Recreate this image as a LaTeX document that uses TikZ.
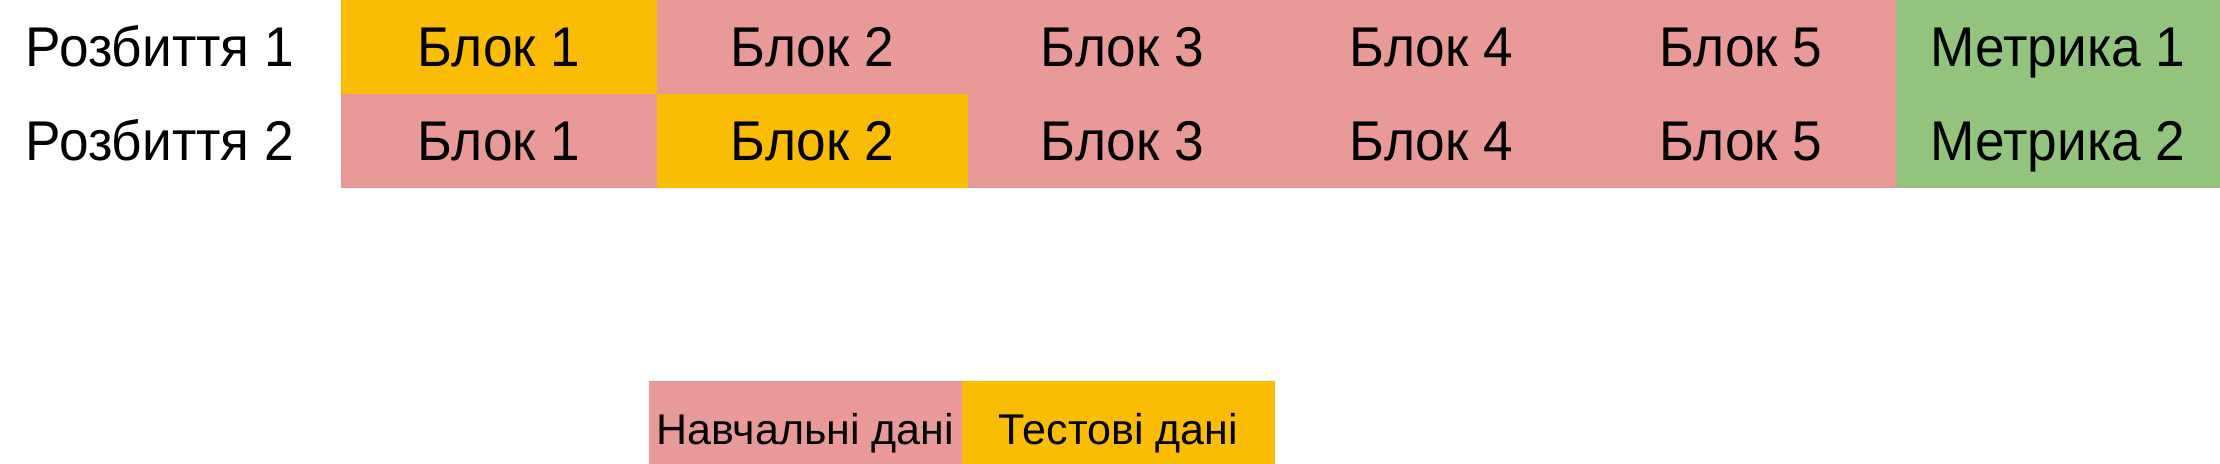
\documentclass[tikz,border=0pt]{standalone}
\usepackage{fontspec}
\setmainfont{Liberation Sans}
\newfontfamily\narrowfont[FakeStretch=0.95]{Liberation Sans}
\definecolor{trainc}{HTML}{EA9999}
\definecolor{testc}{HTML}{FBBC04}
\definecolor{metricc}{HTML}{93C47D}
\begin{document}
\begin{tikzpicture}[x=0.5pt,y=-0.5pt,
  lab/.style={inner sep=0pt,anchor=base,font=\narrowfont\fontsize{28}{32}\selectfont},
  legcell/.style={inner sep=0pt,anchor=base,font=\fontsize{21.5}{25}\selectfont}]
\useasboundingbox (0,0) rectangle (2220,464);
% row 1
\fill[testc] (341,0) rectangle (657,94);
\fill[trainc] (657,0) rectangle (1896,94);
\fill[metricc] (1896,0) rectangle (2220,94);
% row 2
\fill[trainc] (341,94) rectangle (657,188);
\fill[testc] (657,94) rectangle (968,188);
\fill[trainc] (968,94) rectangle (1896,188);
\fill[metricc] (1896,94) rectangle (2220,188);
% row labels
\node[lab] (r1) at (160,67) {Розбиття 1};
\node[lab] (r2) at (160,161) {Розбиття 2};
% texts
\node[lab] (a1) at (499,67) {Блок 1};
\node[lab] (a2) at (812.5,67) {Блок 2};
\node[lab] (a3) at (1122.5,67) {Блок 3};
\node[lab] (a4) at (1431.5,67) {Блок 4};
\node[lab] (a5) at (1741,67) {Блок 5};
\node[lab] (am) at (2058,67) {Метрика 1};
\node[lab] (b1) at (499,161) {Блок 1};
\node[lab] (b2) at (812.5,161) {Блок 2};
\node[lab] (b3) at (1122.5,161) {Блок 3};
\node[lab] (b4) at (1431.5,161) {Блок 4};
\node[lab] (b5) at (1741,161) {Блок 5};
\node[lab] (bm) at (2058,161) {Метрика 2};
% legend
\fill[trainc] (649,381) rectangle (962,464);
\fill[testc] (962,381) rectangle (1275,464);
\node[legcell] (lt) at (805.5,444) {Навчальні дані};
\node[legcell] (ls) at (1118.5,444) {Тестові дані};
\end{tikzpicture}
\end{document}
